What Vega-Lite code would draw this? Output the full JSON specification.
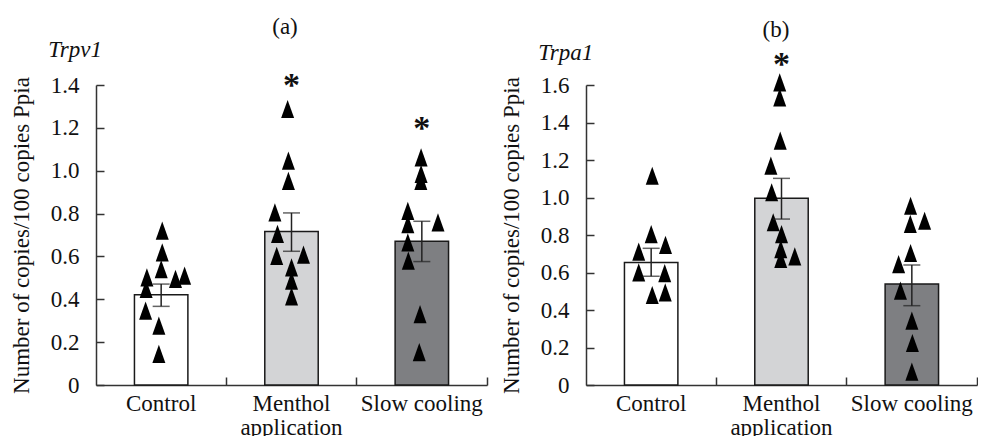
{
  "$schema": "https://vega.github.io/schema/vega-lite/v6.json",
  "background": "white",
  "padding": {"left": 10, "top": 16, "right": 0, "bottom": 0},
  "spacing": 12,
  "datasets": {
    "bars": [
      {"panel": "a", "group": "Control", "mean": 0.421, "lo": 0.367, "hi": 0.471, "star": null},
      {"panel": "a", "group": "Menthol application", "mean": 0.716, "lo": 0.624, "hi": 0.803, "star": 1.428},
      {"panel": "a", "group": "Slow cooling", "mean": 0.671, "lo": 0.576, "hi": 0.764, "star": 1.226},
      {"panel": "b", "group": "Control", "mean": 0.654, "lo": 0.58, "hi": 0.729, "star": null},
      {"panel": "b", "group": "Menthol application", "mean": 0.996, "lo": 0.885, "hi": 1.102, "star": 1.742},
      {"panel": "b", "group": "Slow cooling", "mean": 0.539, "lo": 0.423, "hi": 0.64, "star": null}
    ],
    "points": [
      {"panel": "a", "group": "Control", "value": 0.72, "jitter": 0.04},
      {"panel": "a", "group": "Control", "value": 0.619, "jitter": 0.04},
      {"panel": "a", "group": "Control", "value": 0.541, "jitter": 0},
      {"panel": "a", "group": "Control", "value": 0.502, "jitter": -0.55},
      {"panel": "a", "group": "Control", "value": 0.495, "jitter": 0.55},
      {"panel": "a", "group": "Control", "value": 0.51, "jitter": 0.9},
      {"panel": "a", "group": "Control", "value": 0.448, "jitter": -0.58},
      {"panel": "a", "group": "Control", "value": 0.347, "jitter": -0.6},
      {"panel": "a", "group": "Control", "value": 0.277, "jitter": -0.09},
      {"panel": "a", "group": "Control", "value": 0.145, "jitter": -0.09},
      {"panel": "a", "group": "Menthol application", "value": 1.288, "jitter": -0.15},
      {"panel": "a", "group": "Menthol application", "value": 1.047, "jitter": -0.12},
      {"panel": "a", "group": "Menthol application", "value": 0.953, "jitter": -0.12},
      {"panel": "a", "group": "Menthol application", "value": 0.806, "jitter": -0.64},
      {"panel": "a", "group": "Menthol application", "value": 0.705, "jitter": -0.54},
      {"panel": "a", "group": "Menthol application", "value": 0.603, "jitter": -0.57},
      {"panel": "a", "group": "Menthol application", "value": 0.608, "jitter": 0.46},
      {"panel": "a", "group": "Menthol application", "value": 0.549, "jitter": 0},
      {"panel": "a", "group": "Menthol application", "value": 0.487, "jitter": 0},
      {"panel": "a", "group": "Menthol application", "value": 0.414, "jitter": 0},
      {"panel": "a", "group": "Slow cooling", "value": 1.062, "jitter": -0.03},
      {"panel": "a", "group": "Slow cooling", "value": 0.985, "jitter": -0.03},
      {"panel": "a", "group": "Slow cooling", "value": 0.953, "jitter": -0.04},
      {"panel": "a", "group": "Slow cooling", "value": 0.813, "jitter": -0.54},
      {"panel": "a", "group": "Slow cooling", "value": 0.751, "jitter": -0.54},
      {"panel": "a", "group": "Slow cooling", "value": 0.759, "jitter": 0.62},
      {"panel": "a", "group": "Slow cooling", "value": 0.666, "jitter": -0.54},
      {"panel": "a", "group": "Slow cooling", "value": 0.58, "jitter": -0.52},
      {"panel": "a", "group": "Slow cooling", "value": 0.331, "jitter": -0.07},
      {"panel": "a", "group": "Slow cooling", "value": 0.153, "jitter": -0.1},
      {"panel": "b", "group": "Control", "value": 1.116, "jitter": 0.04},
      {"panel": "b", "group": "Control", "value": 0.805, "jitter": 0},
      {"panel": "b", "group": "Control", "value": 0.747, "jitter": 0.55},
      {"panel": "b", "group": "Control", "value": 0.711, "jitter": -0.48},
      {"panel": "b", "group": "Control", "value": 0.601, "jitter": -0.48},
      {"panel": "b", "group": "Control", "value": 0.597, "jitter": 0.52},
      {"panel": "b", "group": "Control", "value": 0.48, "jitter": 0.04},
      {"panel": "b", "group": "Control", "value": 0.494, "jitter": 0.54},
      {"panel": "b", "group": "Menthol application", "value": 1.614, "jitter": -0.07},
      {"panel": "b", "group": "Menthol application", "value": 1.534, "jitter": -0.07},
      {"panel": "b", "group": "Menthol application", "value": 1.303, "jitter": -0.05},
      {"panel": "b", "group": "Menthol application", "value": 1.17, "jitter": -0.41},
      {"panel": "b", "group": "Menthol application", "value": 1.028, "jitter": -0.38},
      {"panel": "b", "group": "Menthol application", "value": 0.868, "jitter": -0.32},
      {"panel": "b", "group": "Menthol application", "value": 0.805, "jitter": 0},
      {"panel": "b", "group": "Menthol application", "value": 0.725, "jitter": -0.03},
      {"panel": "b", "group": "Menthol application", "value": 0.672, "jitter": -0.03},
      {"panel": "b", "group": "Menthol application", "value": 0.686, "jitter": 0.51},
      {"panel": "b", "group": "Slow cooling", "value": 0.956, "jitter": -0.05},
      {"panel": "b", "group": "Slow cooling", "value": 0.859, "jitter": -0.06},
      {"panel": "b", "group": "Slow cooling", "value": 0.876, "jitter": 0.49},
      {"panel": "b", "group": "Slow cooling", "value": 0.704, "jitter": -0.05},
      {"panel": "b", "group": "Slow cooling", "value": 0.645, "jitter": -0.51},
      {"panel": "b", "group": "Slow cooling", "value": 0.503, "jitter": -0.44},
      {"panel": "b", "group": "Slow cooling", "value": 0.343, "jitter": 0},
      {"panel": "b", "group": "Slow cooling", "value": 0.224, "jitter": 0.02},
      {"panel": "b", "group": "Slow cooling", "value": 0.071, "jitter": 0}
    ]
  },
  "hconcat": [
    {
      "title": {"text": "(a)", "anchor": "middle", "offset": 0, "dx": 36},
      "vconcat": [
        {
          "title": {"text": "Trpv1", "anchor": "start", "frame": "bounds", "fontStyle": "italic", "dx": 38, "offset": 7},
          "width": 391,
          "height": 300,
          "resolve": {"scale": {"xOffset": "independent"}},
          "encoding": {
            "x": {
              "field": "group", "type": "nominal",
              "scale": {"domain": ["Control", "Menthol application", "Slow cooling"], "paddingInner": 0, "paddingOuter": 0},
              "axis": {"title": null, "labelAngle": 0, "bandPosition": 1, "tickSize": -8, "labelPadding": 15, "labelLineHeight": 24, "labelFont": "Liberation Serif", "labelFontSize": 23,
                "labelExpr": "datum.label == 'Menthol application' ? ['Menthol', 'application'] : datum.label"}
            }
          },
          "layer": [
            {
              "data": {"name": "bars"},
              "transform": [{"filter": "datum.panel == 'a'"}],
              "mark": {"type": "bar", "width": {"band": 0.41}, "stroke": "#1a1a1a", "strokeWidth": 1.5},
              "encoding": {
                "y": {"field": "mean", "type": "quantitative", "scale": {"domain": [0, 1.4], "nice": false},
                  "axis": {"title": "Number of copies/100 copies Ppia", "values": [0, 0.2, 0.4, 0.6, 0.8, 1.0, 1.2, 1.4], "labelExpr": "datum.value == 0 ? '0' : format(datum.value, '.1f')", "tickSize": -8, "labelPadding": 25, "titlePadding": 17, "labelFont": "Liberation Serif", "labelFontSize": 23, "titleFont": "Liberation Serif", "titleFontSize": 23, "titleFontWeight": "normal"}},
                "fill": {"field": "group", "type": "nominal", "scale": {"domain": ["Control", "Menthol application", "Slow cooling"], "range": ["#ffffff", "#d3d4d6", "#7e7f82"]}, "legend": null}
              }
            },
            {
              "data": {"name": "points"},
              "transform": [{"filter": "datum.panel == 'a'"}],
              "mark": {"type": "point", "shape": "M0,-1.4L1,1.4L-1,1.4Z", "size": 169, "filled": true, "color": "#000000", "opacity": 1},
              "encoding": {
                "y": {"field": "value", "type": "quantitative", "scale": {"domain": [0, 1.4], "nice": false},
                  "axis": {"title": "Number of copies/100 copies Ppia", "values": [0, 0.2, 0.4, 0.6, 0.8, 1.0, 1.2, 1.4], "labelExpr": "datum.value == 0 ? '0' : format(datum.value, '.1f')", "tickSize": -8, "labelPadding": 25, "titlePadding": 17, "labelFont": "Liberation Serif", "labelFontSize": 23, "titleFont": "Liberation Serif", "titleFontSize": 23, "titleFontWeight": "normal"}},
                "xOffset": {"field": "jitter", "type": "quantitative", "scale": {"domain": [-1, 1], "range": [39.2, 91.2]}}
              }
            },
            {
              "data": {"name": "bars"},
              "transform": [{"filter": "datum.panel == 'a'"}],
              "mark": {"type": "rule", "color": "#222222", "strokeWidth": 1.5},
              "encoding": {
                "y": {"field": "lo", "type": "quantitative", "scale": {"domain": [0, 1.4], "nice": false},
                  "axis": {"title": "Number of copies/100 copies Ppia", "values": [0, 0.2, 0.4, 0.6, 0.8, 1.0, 1.2, 1.4], "labelExpr": "datum.value == 0 ? '0' : format(datum.value, '.1f')", "tickSize": -8, "labelPadding": 25, "titlePadding": 17, "labelFont": "Liberation Serif", "labelFontSize": 23, "titleFont": "Liberation Serif", "titleFontSize": 23, "titleFontWeight": "normal"}},
                "y2": {"field": "hi"}
              }
            },
            {
              "data": {"name": "bars"},
              "transform": [{"filter": "datum.panel == 'a'"}],
              "mark": {"type": "tick", "orient": "horizontal", "color": "#222222", "thickness": 1.5, "size": 17},
              "encoding": {
                "y": {"field": "lo", "type": "quantitative", "scale": {"domain": [0, 1.4], "nice": false},
                  "axis": {"title": "Number of copies/100 copies Ppia", "values": [0, 0.2, 0.4, 0.6, 0.8, 1.0, 1.2, 1.4], "labelExpr": "datum.value == 0 ? '0' : format(datum.value, '.1f')", "tickSize": -8, "labelPadding": 25, "titlePadding": 17, "labelFont": "Liberation Serif", "labelFontSize": 23, "titleFont": "Liberation Serif", "titleFontSize": 23, "titleFontWeight": "normal"}}
              }
            },
            {
              "data": {"name": "bars"},
              "transform": [{"filter": "datum.panel == 'a'"}],
              "mark": {"type": "tick", "orient": "horizontal", "color": "#222222", "thickness": 1.5, "size": 17},
              "encoding": {
                "y": {"field": "hi", "type": "quantitative", "scale": {"domain": [0, 1.4], "nice": false},
                  "axis": {"title": "Number of copies/100 copies Ppia", "values": [0, 0.2, 0.4, 0.6, 0.8, 1.0, 1.2, 1.4], "labelExpr": "datum.value == 0 ? '0' : format(datum.value, '.1f')", "tickSize": -8, "labelPadding": 25, "titlePadding": 17, "labelFont": "Liberation Serif", "labelFontSize": 23, "titleFont": "Liberation Serif", "titleFontSize": 23, "titleFontWeight": "normal"}}
              }
            },
            {
              "data": {"name": "bars"},
              "transform": [{"filter": "datum.panel == 'a' && isValid(datum.star)"}],
              "mark": {"type": "text", "text": "*", "fontSize": 34, "fontWeight": "bold", "baseline": "middle", "dy": 7, "color": "#111111"},
              "encoding": {
                "y": {"field": "star", "type": "quantitative", "scale": {"domain": [0, 1.4], "nice": false},
                  "axis": {"title": "Number of copies/100 copies Ppia", "values": [0, 0.2, 0.4, 0.6, 0.8, 1.0, 1.2, 1.4], "labelExpr": "datum.value == 0 ? '0' : format(datum.value, '.1f')", "tickSize": -8, "labelPadding": 25, "titlePadding": 17, "labelFont": "Liberation Serif", "labelFontSize": 23, "titleFont": "Liberation Serif", "titleFontSize": 23, "titleFontWeight": "normal"}}
              }
            }
          ]
        }
      ]
    },
    {
      "title": {"text": "(b)", "anchor": "middle", "offset": 0, "dx": 37},
      "vconcat": [
        {
          "title": {"text": "Trpa1", "anchor": "start", "frame": "bounds", "fontStyle": "italic", "dx": 38, "offset": -17},
          "width": 391,
          "height": 300,
          "resolve": {"scale": {"xOffset": "independent"}},
          "encoding": {
            "x": {
              "field": "group", "type": "nominal",
              "scale": {"domain": ["Control", "Menthol application", "Slow cooling"], "paddingInner": 0, "paddingOuter": 0},
              "axis": {"title": null, "labelAngle": 0, "bandPosition": 1, "tickSize": -8, "labelPadding": 15, "labelLineHeight": 24, "labelFont": "Liberation Serif", "labelFontSize": 23,
                "labelExpr": "datum.label == 'Menthol application' ? ['Menthol', 'application'] : datum.label"}
            }
          },
          "layer": [
            {
              "data": {"name": "bars"},
              "transform": [{"filter": "datum.panel == 'b'"}],
              "mark": {"type": "bar", "width": {"band": 0.41}, "stroke": "#1a1a1a", "strokeWidth": 1.5},
              "encoding": {
                "y": {"field": "mean", "type": "quantitative", "scale": {"domain": [0, 1.6], "nice": false},
                  "axis": {"title": "Number of copies/100 copies Ppia", "values": [0, 0.2, 0.4, 0.6, 0.8, 1.0, 1.2, 1.4, 1.6], "labelExpr": "datum.value == 0 ? '0' : format(datum.value, '.1f')", "tickSize": -8, "labelPadding": 25, "titlePadding": 17, "labelFont": "Liberation Serif", "labelFontSize": 23, "titleFont": "Liberation Serif", "titleFontSize": 23, "titleFontWeight": "normal"}},
                "fill": {"field": "group", "type": "nominal", "scale": {"domain": ["Control", "Menthol application", "Slow cooling"], "range": ["#ffffff", "#d3d4d6", "#7e7f82"]}, "legend": null}
              }
            },
            {
              "data": {"name": "points"},
              "transform": [{"filter": "datum.panel == 'b'"}],
              "mark": {"type": "point", "shape": "M0,-1.4L1,1.4L-1,1.4Z", "size": 169, "filled": true, "color": "#000000", "opacity": 1},
              "encoding": {
                "y": {"field": "value", "type": "quantitative", "scale": {"domain": [0, 1.6], "nice": false},
                  "axis": {"title": "Number of copies/100 copies Ppia", "values": [0, 0.2, 0.4, 0.6, 0.8, 1.0, 1.2, 1.4, 1.6], "labelExpr": "datum.value == 0 ? '0' : format(datum.value, '.1f')", "tickSize": -8, "labelPadding": 25, "titlePadding": 17, "labelFont": "Liberation Serif", "labelFontSize": 23, "titleFont": "Liberation Serif", "titleFontSize": 23, "titleFontWeight": "normal"}},
                "xOffset": {"field": "jitter", "type": "quantitative", "scale": {"domain": [-1, 1], "range": [39.2, 91.2]}}
              }
            },
            {
              "data": {"name": "bars"},
              "transform": [{"filter": "datum.panel == 'b'"}],
              "mark": {"type": "rule", "color": "#222222", "strokeWidth": 1.5},
              "encoding": {
                "y": {"field": "lo", "type": "quantitative", "scale": {"domain": [0, 1.6], "nice": false},
                  "axis": {"title": "Number of copies/100 copies Ppia", "values": [0, 0.2, 0.4, 0.6, 0.8, 1.0, 1.2, 1.4, 1.6], "labelExpr": "datum.value == 0 ? '0' : format(datum.value, '.1f')", "tickSize": -8, "labelPadding": 25, "titlePadding": 17, "labelFont": "Liberation Serif", "labelFontSize": 23, "titleFont": "Liberation Serif", "titleFontSize": 23, "titleFontWeight": "normal"}},
                "y2": {"field": "hi"}
              }
            },
            {
              "data": {"name": "bars"},
              "transform": [{"filter": "datum.panel == 'b'"}],
              "mark": {"type": "tick", "orient": "horizontal", "color": "#222222", "thickness": 1.5, "size": 17},
              "encoding": {
                "y": {"field": "lo", "type": "quantitative", "scale": {"domain": [0, 1.6], "nice": false},
                  "axis": {"title": "Number of copies/100 copies Ppia", "values": [0, 0.2, 0.4, 0.6, 0.8, 1.0, 1.2, 1.4, 1.6], "labelExpr": "datum.value == 0 ? '0' : format(datum.value, '.1f')", "tickSize": -8, "labelPadding": 25, "titlePadding": 17, "labelFont": "Liberation Serif", "labelFontSize": 23, "titleFont": "Liberation Serif", "titleFontSize": 23, "titleFontWeight": "normal"}}
              }
            },
            {
              "data": {"name": "bars"},
              "transform": [{"filter": "datum.panel == 'b'"}],
              "mark": {"type": "tick", "orient": "horizontal", "color": "#222222", "thickness": 1.5, "size": 17},
              "encoding": {
                "y": {"field": "hi", "type": "quantitative", "scale": {"domain": [0, 1.6], "nice": false},
                  "axis": {"title": "Number of copies/100 copies Ppia", "values": [0, 0.2, 0.4, 0.6, 0.8, 1.0, 1.2, 1.4, 1.6], "labelExpr": "datum.value == 0 ? '0' : format(datum.value, '.1f')", "tickSize": -8, "labelPadding": 25, "titlePadding": 17, "labelFont": "Liberation Serif", "labelFontSize": 23, "titleFont": "Liberation Serif", "titleFontSize": 23, "titleFontWeight": "normal"}}
              }
            },
            {
              "data": {"name": "bars"},
              "transform": [{"filter": "datum.panel == 'b' && isValid(datum.star)"}],
              "mark": {"type": "text", "text": "*", "fontSize": 34, "fontWeight": "bold", "baseline": "middle", "dy": 7, "color": "#111111"},
              "encoding": {
                "y": {"field": "star", "type": "quantitative", "scale": {"domain": [0, 1.6], "nice": false},
                  "axis": {"title": "Number of copies/100 copies Ppia", "values": [0, 0.2, 0.4, 0.6, 0.8, 1.0, 1.2, 1.4, 1.6], "labelExpr": "datum.value == 0 ? '0' : format(datum.value, '.1f')", "tickSize": -8, "labelPadding": 25, "titlePadding": 17, "labelFont": "Liberation Serif", "labelFontSize": 23, "titleFont": "Liberation Serif", "titleFontSize": 23, "titleFontWeight": "normal"}}
              }
            }
          ]
        }
      ]
    }
  ],
  "config": {
    "view": {"stroke": null},
    "font": "Liberation Serif",
    "axis": {"labelFont": "Liberation Serif", "titleFont": "Liberation Serif", "labelFontSize": 23, "titleFontSize": 23, "labelColor": "#111111", "titleColor": "#111111", "domainColor": "#333333", "tickColor": "#333333", "domainWidth": 1.5, "tickWidth": 1.5, "grid": false, "titleFontWeight": "normal"},
    "title": {"font": "Liberation Serif", "fontWeight": "normal", "fontSize": 23, "color": "#111111"}
  }
}
